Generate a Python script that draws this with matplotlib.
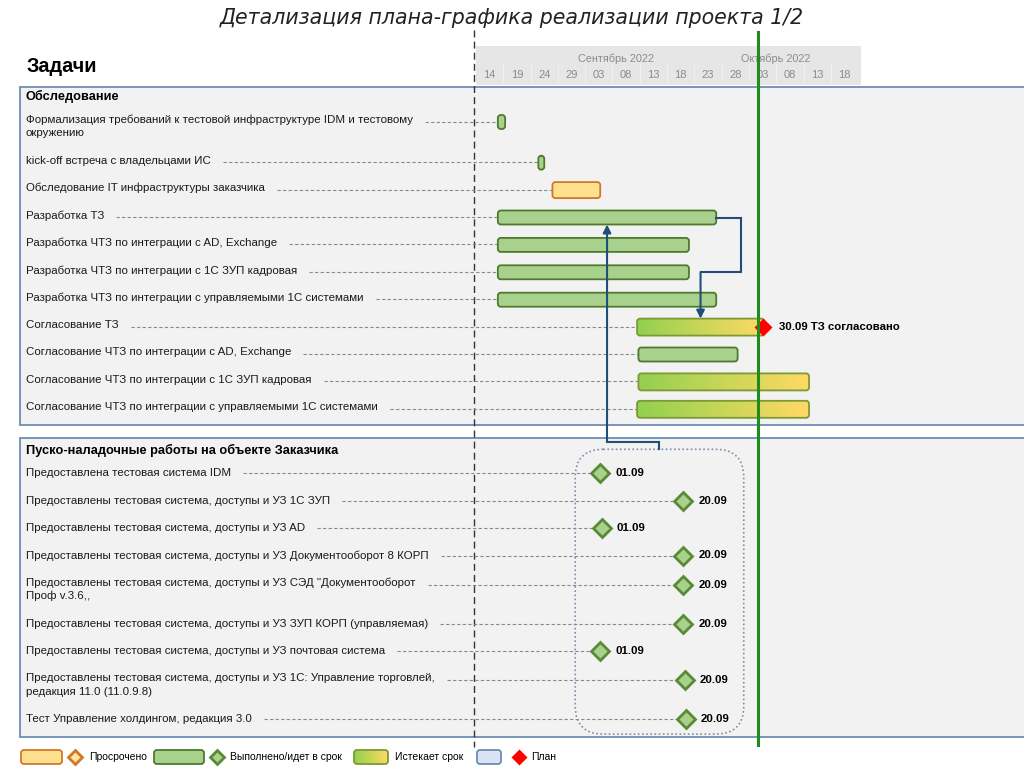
import numpy as np
import pandas as pd
import matplotlib
matplotlib.use('Agg')
import matplotlib.pyplot as plt
import matplotlib.dates as mdates
from matplotlib.patches import FancyBboxPatch, Rectangle
from matplotlib.colors import LinearSegmentedColormap

plt.rcParams['font.family'] = ['Liberation Sans', 'DejaVu Sans']

# ---- data ----
title = "Детализация плана-графика реализации проекта 1/2"
table_title = "Задачи"

months = ["Сентябрь 2022", "Октябрь 2022"]
month_starts = ["2022-09-01", "2022-10-01"]
scale_start = "2022-08-14"
day_labels = ["14", "19", "24", "29", "03", "08", "13", "18", "23", "28", "03", "08", "13", "18"]

sec1_title = "Обследование"
sec1_tasks = [
    "Формализация требований к тестовой инфраструктуре IDM и тестовому\nокружению",
    "kick-off встреча с владельцами ИС",
    "Обследование IT инфраструктуры заказчика",
    "Разработка ТЗ",
    "Разработка ЧТЗ по интеграции с AD, Exchange",
    "Разработка ЧТЗ по интеграции с 1С ЗУП кадровая",
    "Разработка ЧТЗ по интеграции с управляемыми 1С системами",
    "Согласование ТЗ",
    "Согласование ЧТЗ по интеграции с AD, Exchange",
    "Согласование ЧТЗ по интеграции с 1С ЗУП кадровая",
    "Согласование ЧТЗ по интеграции с управляемыми 1С системами",
]
sec1_start = ["2022-08-18", "2022-08-25 10:00", "2022-08-28", "2022-08-18", "2022-08-18",
              "2022-08-18", "2022-08-18", "2022-09-12 12:00", "2022-09-12 18:00",
              "2022-09-12 18:00", "2022-09-12 12:00"]
sec1_end = ["2022-08-19 08:00", "2022-08-26 12:00", "2022-09-05 18:00", "2022-09-27", "2022-09-22",
            "2022-09-22", "2022-09-27", "2022-10-05 18:00", "2022-09-30 22:00",
            "2022-10-14", "2022-10-14"]
sec1_status = ["done", "done", "overdue", "done", "done", "done", "done",
               "expiring", "done", "expiring", "expiring"]

plan_date = "2022-10-05 13:00"
plan_label = "30.09 ТЗ согласовано"
today = "2022-10-04 16:00"

sec2_title = "Пуско-наладочные работы на объекте Заказчика"
sec2_tasks = [
    "Предоставлена тестовая система IDM",
    "Предоставлены тестовая система, доступы и УЗ 1С ЗУП",
    "Предоставлены тестовая система, доступы и УЗ AD",
    "Предоставлены тестовая система, доступы и УЗ Документооборот 8 КОРП",
    "Предоставлены тестовая система, доступы и УЗ СЭД \"Документооборот\nПроф v.3.6,,",
    "Предоставлены тестовая система, доступы и УЗ ЗУП КОРП (управляемая)",
    "Предоставлены тестовая система, доступы и УЗ почтовая система",
    "Предоставлены тестовая система, доступы и УЗ 1С: Управление торговлей,\nредакция 11.0 (11.0.9.8)",
    "Тест Управление холдингом, редакция 3.0",
]
sec2_dates = ["2022-09-05 18:00", "2022-09-21", "2022-09-06", "2022-09-21", "2022-09-21",
              "2022-09-21", "2022-09-05 18:00", "2022-09-21 06:00", "2022-09-21 10:00"]
sec2_labels = ["01.09", "20.09", "01.09", "20.09", "20.09", "20.09", "01.09", "20.09", "20.09"]

legend_labels = ["Просрочено", "Выполнено/идет в срок", "Истекает срок", "План"]

# ---- style ----
W, H = 1024, 767
X0 = 476
PX_DAY = 5.46
FRAME = '#6C8EB5'
GREEN_FC, GREEN_EC = '#A9D18E', '#4E7A2E'
ORANGE_FC, ORANGE_EC = '#FFE08F', '#D0782A'
GRAD_EC = '#7C9A34'
ARROW = '#1F4E79'
LABEL_FS = 8.25
grad_cmap = LinearSegmentedColormap.from_list('exp', ['#92D050', '#C9D658', '#FFD966'])

fig = plt.figure(figsize=(W / 100, H / 100), dpi=100, facecolor='white')
ax = fig.add_axes([0, 0, 1, 1])
ax.set_xlim(0, W)
ax.set_ylim(H, 0)
ax.axis('off')

d0 = mdates.date2num(pd.Timestamp(scale_start))
axt = fig.add_axes([X0 / W, 0, (W - X0) / W, 1], zorder=2)
axt.set_xlim(d0, d0 + (W - X0) / PX_DAY)
axt.set_ylim(H, 0)
axt.axis('off')

axo = fig.add_axes([0, 0, 1, 1], zorder=3)
axo.set_xlim(0, W)
axo.set_ylim(H, 0)
axo.axis('off')


def dnum(s):
    return mdates.date2num(pd.Timestamp(s))


def date_px(s):
    disp = axt.transData.transform((dnum(s), 0))
    return ax.transData.inverted().transform(disp)[0]


def row_positions(y_first, labels):
    ys, y = [], y_first
    for lab in labels:
        ys.append(y)
        y += 27.4 + 13.3 * lab.count('\n')
    return ys


def draw_label(y, text):
    lines = text.split('\n')
    ends = []
    for i, line in enumerate(lines):
        t = ax.text(26, y + i * 13.3, line, fontsize=LABEL_FS, va='center', ha='left', color='#1a1a1a')
        ends.append(t)
    renderer = fig.canvas.get_renderer()
    bb = ends[0].get_window_extent(renderer)
    return ax.transData.inverted().transform((bb.x1, bb.y0))[0]


def rbar(x0, x1, y, h, fc, ec, gradient=False):
    p = FancyBboxPatch((x0, y - h / 2), x1 - x0, h,
                       boxstyle=f"round,pad=0,rounding_size={3 / PX_DAY}",
                       mutation_aspect=PX_DAY, fc='none' if gradient else fc,
                       ec=ec, lw=1.3, zorder=3)
    axt.add_patch(p)
    if gradient:
        im = axt.imshow(np.linspace(0, 1, 256).reshape(1, -1), extent=(x0, x1, y + h / 2, y - h / 2),
                        cmap=grad_cmap, aspect='auto', zorder=2, interpolation='bilinear')
        im.set_clip_path(p)
    return p


# title
ax.text(W / 2, 18, title, fontsize=14.8, style='italic', family='DejaVu Sans',
        ha='center', va='center', color='#222222')
ax.text(27, 67, table_title, fontsize=14.3, fontweight='bold', ha='left', va='center')

# section frames
ax.add_patch(Rectangle((20, 87), 1020, 338, fc='#F2F2F2', ec=FRAME, lw=1.3, zorder=0))
ax.add_patch(Rectangle((20, 438), 1020, 299, fc='#F2F2F2', ec=FRAME, lw=1.3, zorder=0))
ax.text(26, 96, sec1_title, fontsize=9.2, fontweight='bold', va='center')
ax.text(26, 450, sec2_title, fontsize=9.2, fontweight='bold', va='center')

# timescale header
scale_days = pd.date_range(scale_start, periods=len(day_labels), freq='5D')
axt.add_patch(Rectangle((d0, 46), len(day_labels) * 5 + 0.5, 39, fc='#E6E6E6', ec='none', zorder=1))
for d, lab in zip(scale_days, day_labels):
    x = mdates.date2num(d)
    axt.text(x + 2.5, 75, lab, fontsize=8, color='#8C8C8C', ha='center', va='center')
    if x > d0:
        axt.plot([x, x], [64, 85], color='#EFEFEF', lw=0.8, zorder=1)
for m, ms in zip(months, month_starts):
    axt.text(dnum(ms) + 0.6, 59, m, fontsize=7.8, color='#8C8C8C', ha='left', va='center')

# separator between table and timeline
ax.plot([X0 - 2, X0 - 2], [30, 747], color='#333333', lw=1, ls=(0, (5, 3)), zorder=1)

# section 1 bars
ys1 = row_positions(120, sec1_tasks)
bar_h = {'done': 14, 'overdue': 16, 'expiring': 17}
for y, task, s, e, st in zip(ys1, sec1_tasks, sec1_start, sec1_end, sec1_status):
    xend = draw_label(y, task)
    ax.plot([xend + 12, date_px(s)], [y + 1.5, y + 1.5], color='#8A8A8A', lw=0.8,
            ls=(0, (3, 2)), zorder=1)
    yb = y + 2
    if st == 'done':
        rbar(dnum(s), dnum(e), yb, bar_h[st], GREEN_FC, GREEN_EC)
    elif st == 'overdue':
        rbar(dnum(s), dnum(e), yb, bar_h[st], ORANGE_FC, ORANGE_EC)
    else:
        rbar(dnum(s), dnum(e), yb, bar_h[st], None, GRAD_EC, gradient=True)

# plan milestone
i_plan = sec1_tasks.index("Согласование ТЗ")
axt.plot(dnum(plan_date), ys1[i_plan] + 2, marker='D', ms=9.2, mfc='#FF0000', mec='none', zorder=5)
axt.annotate(plan_label, (dnum(plan_date), ys1[i_plan] + 2), xytext=(11.5, 0),
             textcoords='offset points', fontsize=8.2, fontweight='bold', va='center', zorder=5)

# section 2 milestones
ys2 = row_positions(473.3, sec2_tasks)
for y, task, d, lab in zip(ys2, sec2_tasks, sec2_dates, sec2_labels):
    xend = draw_label(y, task)
    ym = y + (2 if '\n' in task else 0)
    ax.plot([xend + 12, date_px(d) - 10], [ym, ym], color='#8A8A8A', lw=0.8,
            ls=(0, (3, 2)), zorder=1)
    axt.plot(dnum(d), ym, marker='D', ms=9, mfc=GREEN_FC, mec='#5A8A35', mew=2, zorder=5)
    axt.annotate(lab, (dnum(d), ym), xytext=(11, 0), textcoords='offset points',
                 fontsize=8.2, fontweight='bold', va='center', zorder=5)

# dotted group around section 2 milestones
mx = [date_px(d) for d in sec2_dates]
bx0, bx1 = min(mx) - 25, max(mx) + 58
by0, by1 = ys2[0] - 24, ys2[-1] + 15
axo.add_patch(FancyBboxPatch((bx0, by0), bx1 - bx0, by1 - by0,
                             boxstyle="round,pad=0,rounding_size=28", fc='none',
                             ec='#7D8FA8', lw=1.2, ls=(0, (1, 1.5)), zorder=1))

# today line
axt.plot([dnum(today), dnum(today)], [32, 745], color='#1E8C1E', lw=2.2, zorder=6)

# dependency arrows
i_dev = sec1_tasks.index("Разработка ТЗ")
dev_x0, dev_x1 = date_px(sec1_start[i_dev]), date_px(sec1_end[i_dev])
dev_y = ys1[i_dev] + 2
agr_x0, agr_x1 = date_px(sec1_start[i_plan]), date_px(sec1_end[i_plan])
agr_y = ys1[i_plan] + 2
mid_y = (dev_y + agr_y) / 2
drop_x = (agr_x0 + agr_x1) / 2
axo.plot([dev_x1, dev_x1 + 25, dev_x1 + 25, drop_x], [dev_y, dev_y, mid_y, mid_y],
         color=ARROW, lw=1.5, solid_joinstyle='miter')
axo.annotate('', xy=(drop_x, agr_y - bar_h['expiring'] / 2), xytext=(drop_x, mid_y),
             arrowprops=dict(arrowstyle='-|>', color=ARROW, lw=1.5, mutation_scale=12,
                             shrinkA=0, shrinkB=0))
up_x = (dev_x0 + dev_x1) / 2
box_cx = (bx0 + bx1) / 2
axo.plot([box_cx, box_cx, up_x, up_x], [by0, by0 - 7, by0 - 7, by0 - 30],
         color=ARROW, lw=1.5, solid_joinstyle='miter')
axo.annotate('', xy=(up_x, dev_y + bar_h['done'] / 2), xytext=(up_x, by0 - 30),
             arrowprops=dict(arrowstyle='-|>', color=ARROW, lw=1.5, mutation_scale=12,
                             shrinkA=0, shrinkB=0))

# legend
ly = 757
axo.add_patch(FancyBboxPatch((21, ly - 7), 41, 14, boxstyle="round,pad=0,rounding_size=3",
                             fc=ORANGE_FC, ec=ORANGE_EC, lw=1.3))
axo.plot(75, ly, marker='D', ms=7, mfc='#FFE699', mec='#D0782A', mew=2)
axo.text(89, ly, legend_labels[0], fontsize=7.5, va='center')
axo.add_patch(FancyBboxPatch((154, ly - 7), 50, 14, boxstyle="round,pad=0,rounding_size=3",
                             fc=GREEN_FC, ec=GREEN_EC, lw=1.3))
axo.plot(217, ly, marker='D', ms=7, mfc=GREEN_FC, mec='#5A8A35', mew=2)
axo.text(230, ly, legend_labels[1], fontsize=7.5, va='center')
gp = FancyBboxPatch((354, ly - 7), 34, 14, boxstyle="round,pad=0,rounding_size=3",
                    fc='none', ec=GRAD_EC, lw=1.3, zorder=3)
axo.add_patch(gp)
gim = axo.imshow(np.linspace(0, 1, 256).reshape(1, -1), extent=(354, 388, ly + 7, ly - 7),
                 cmap=grad_cmap, aspect='auto', zorder=2)
gim.set_clip_path(gp)
axo.text(395, ly, legend_labels[2], fontsize=7.5, va='center')
axo.add_patch(FancyBboxPatch((477, ly - 7), 24, 14, boxstyle="round,pad=0,rounding_size=3",
                             fc='#DAE3F3', ec='#6C8EB5', lw=1.3))
axo.plot(519, ly, marker='D', ms=8, mfc='#FF0000', mec='none')
axo.text(531, ly, legend_labels[3], fontsize=7.5, va='center')

for a in (ax, axo):
    a.set_xlim(0, W)
    a.set_ylim(H, 0)
axt.set_xlim(d0, d0 + (W - X0) / PX_DAY)
axt.set_ylim(H, 0)

fig.savefig('out.png', dpi=100, facecolor='white')
